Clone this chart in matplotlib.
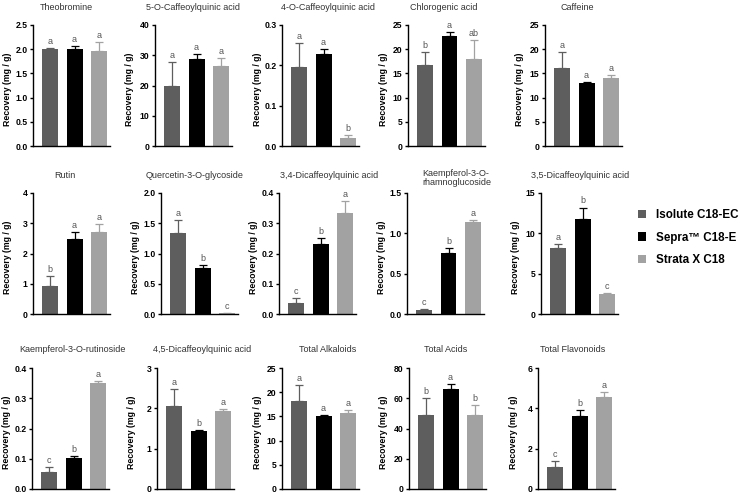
import numpy as np
import matplotlib
matplotlib.use('Agg')
import matplotlib.pyplot as plt
from matplotlib.patches import Patch

plt.rcParams['font.family'] = ['Liberation Sans', 'DejaVu Sans']

# data (mean, upper error bar, significance letters)
compounds = ['Theobromine', '5-O-Caffeoylquinic acid', '4-O-Caffeoylquinic acid',
             'Chlorogenic acid', 'Caffeine',
             'Rutin', 'Quercetin-3-O-glycoside', '3,4-Dicaffeoylquinic acid',
             'Kaempferol-3-O-\nrhamnoglucoside', '3,5-Dicaffeoylquinic acid',
             'Kaempferol-3-O-rutinoside', '4,5-Dicaffeoylquinic acid', 'Total Alkaloids',
             'Total Acids', 'Total Flavonoids']
cartridges = ['Isolute C18-EC', 'Sepra™ C18-E', 'Strata X C18']

isolute_mean = [2.00, 20.0, 0.197, 16.8, 16.1, 0.93, 1.34, 0.038, 0.05, 8.2,
                0.055, 2.05, 18.1, 48.7, 1.07]
isolute_err = [0.03, 7.8, 0.059, 2.6, 3.4, 0.31, 0.21, 0.014, 0.01, 0.5,
               0.017, 0.43, 3.4, 11.3, 0.31]
sepra_mean = [2.01, 28.9, 0.227, 22.8, 13.1, 2.49, 0.76, 0.232, 0.76, 11.8,
              0.104, 1.45, 15.1, 66.0, 3.60]
sepra_err = [0.05, 1.6, 0.013, 0.8, 0.1, 0.21, 0.05, 0.020, 0.06, 1.4,
             0.005, 0.02, 0.1, 3.5, 0.30]
strata_mean = [1.96, 26.3, 0.019, 17.9, 14.0, 2.71, 0.01, 0.335, 1.14, 2.45,
               0.352, 1.94, 15.8, 48.6, 4.55]
strata_err = [0.19, 2.9, 0.009, 3.9, 0.6, 0.25, 0.005, 0.037, 0.03, 0.1,
              0.006, 0.05, 0.5, 6.9, 0.27]
letters = [['a', 'a', 'a'], ['a', 'a', 'a'], ['a', 'a', 'b'], ['b', 'a', 'ab'], ['a', 'a', 'a'],
           ['b', 'a', 'a'], ['a', 'b', 'c'], ['c', 'b', 'a'], ['c', 'b', 'a'], ['a', 'b', 'c'],
           ['c', 'b', 'a'], ['a', 'b', 'a'], ['a', 'a', 'a'], ['b', 'a', 'b'], ['c', 'b', 'a']]
y_max = [2.5, 40, 0.3, 25, 25, 4, 2.0, 0.4, 1.5, 15, 0.4, 3, 25, 80, 6]
y_step = [0.5, 10, 0.1, 5, 5, 1, 0.5, 0.1, 0.5, 5, 0.1, 1, 5, 20, 2]

colors = ['#5e5e5e', '#000000', '#a2a2a2']

# layout (pixels, figure is 743 x 495)
W, H = 743, 495
left_px = [33, 155, 282, 408, 545,
           33, 161, 279, 407, 541,
           32, 157, 282, 409, 538]
bottom_px = [146, 314, 489]
title_x = [0.43, 0.5, 0.6, 0.47, 0.42,
           0.42, 0.43, 0.65, 0.65, 0.51,
           0.53, 0.58, 0.59, 0.48, 0.45]
ax_w, ax_h = 77, 121

fig = plt.figure(figsize=(W / 100, H / 100), dpi=100)

x = np.arange(3)
for i, name in enumerate(compounds):
    r = i // 5
    ax = fig.add_axes([left_px[i] / W, (H - bottom_px[r]) / H, ax_w / W, ax_h / H])
    means = [isolute_mean[i], sepra_mean[i], strata_mean[i]]
    errs = [isolute_err[i], sepra_err[i], strata_err[i]]
    ax.bar(x, means, width=0.65, color=colors, zorder=2)
    for j in range(3):
        ax.errorbar(x[j], means[j], yerr=[[0], [errs[j]]], fmt='none',
                    ecolor=colors[j], elinewidth=0.9, capsize=3.2, capthick=0.9, zorder=1)
        ax.annotate(letters[i][j], (x[j], means[j] + errs[j]), xytext=(0, 1.5),
                    textcoords='offset points', ha='center', va='bottom',
                    fontsize=6.5, color='#555555')
    ax.set_xlim(-0.7, 2.45)
    ax.set_ylim(0, y_max[i])
    ticks = np.arange(0, y_max[i] + y_step[i] / 2, y_step[i])
    ax.set_yticks(ticks)
    if y_step[i] < 1:
        ax.set_yticklabels([f'{t:.1f}' for t in ticks])
    else:
        ax.set_yticklabels([f'{t:.0f}' for t in ticks])
    ax.set_xticks([])
    for s in ['top', 'right']:
        ax.spines[s].set_visible(False)
    for s in ['left', 'bottom']:
        ax.spines[s].set_linewidth(1.0)
    ax.tick_params(axis='y', length=2.5, width=1.0, pad=1.5, labelsize=6.2)
    for lab in ax.get_yticklabels():
        lab.set_fontweight('bold')
    ax.text(-25 / ax_w, 0.47, 'Recovery (mg / g)', transform=ax.transAxes, rotation=90,
            ha='center', va='center', fontsize=6.3, fontweight='bold')
    title_y = 1 + 15 / ax_h if '\n' in name else 1 + 18 / ax_h
    ax.text(title_x[i], title_y, name, transform=ax.transAxes, ha='center',
            va='center', fontsize=6.5, color='#333333', linespacing=1.1,
            multialignment='left')

handles = [Patch(facecolor=c, edgecolor='none') for c in colors]
fig.legend(handles, cartridges, loc='upper left', bbox_to_anchor=(638 / W, (H - 209) / H),
           frameon=False, prop={'weight': 'bold', 'size': 8.4}, handlelength=0.7,
           handleheight=0.7, handletextpad=0.8, labelspacing=0.9, borderpad=0,
           borderaxespad=0)

plt.savefig('out.png', dpi=100)
